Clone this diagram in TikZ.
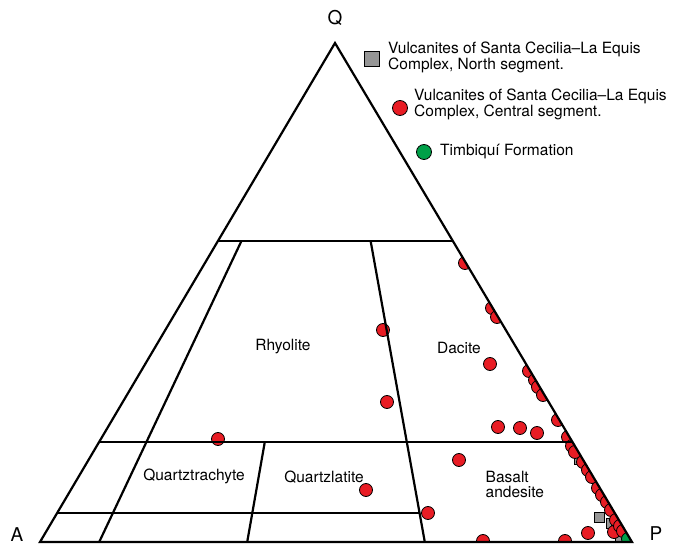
\documentclass[tikz,border=0pt]{standalone}
\usepackage{fontspec}
\setmainfont{TeX Gyre Heros}
\usetikzlibrary{calc}
\definecolor{dotred}{RGB}{232,28,36}
\definecolor{dotgray}{RGB}{150,150,150}
\definecolor{dotgreen}{RGB}{0,160,72}
\begin{document}
\begin{tikzpicture}[x=1pt,y=-1pt,
  edge/.style={line width=2.2pt},
  rdot/.style={circle,draw=black,line width=0.8pt,fill=dotred,minimum size=13pt,inner sep=0pt},
  gsq/.style={rectangle,draw=black,line width=0.8pt,fill=dotgray,minimum size=10pt,inner sep=0pt},
  gdot/.style={circle,draw=black,line width=0.8pt,fill=dotgreen,minimum size=13pt,inner sep=0pt},
  lbl/.style={font=\fontsize{15.5}{13}\selectfont,inner sep=0pt},
  lbltwo/.style={font=\fontsize{15.5}{14.5}\selectfont,inner sep=0pt},
  vtx/.style={font=\fontsize{19}{19}\selectfont,inner sep=0pt}]
\useasboundingbox (0,0) rectangle (673,545);
% vertices
\coordinate (A) at (40,542);
\coordinate (P) at (632,542);
\coordinate (Q) at (335,43);
% base points
\coordinate (b10) at ($(A)!0.10!(P)$);
\coordinate (b35) at ($(A)!0.35!(P)$);
\coordinate (b65) at ($(A)!0.65!(P)$);
% horizontal line ends
\coordinate (h60l) at ($(A)!0.603!(Q)$);
\coordinate (h60r) at ($(P)!0.603!(Q)$);
\coordinate (h20l) at ($(A)!0.2!(Q)$);
\coordinate (h20r) at ($(P)!0.2!(Q)$);
\coordinate (h5l) at ($(A)!0.058!(Q)$);
\coordinate (h5r) at ($(b65)!0.058!(Q)$);
\coordinate (v10t) at ($(b10)!0.603!(Q)$);
\coordinate (v35t) at ($(b35)!0.2!(Q)$);
\coordinate (v65t) at ($(b65)!0.603!(Q)$);

% data points, clipped to the triangle
\begin{scope}
\clip (A) -- (P) -- (Q) -- cycle;
\foreach \x/\y [count=\i] in {579/459,599/517,611/523,616/530,620/537}
  \node[gsq] (g\i) at (\x,\y) {};
\foreach \x/\y [count=\i] in {383/330,387/402,218/439,490/364,498/427,520/428,537/433,459/460,366/490,428/513,483/541,565/541,588/533,614/532,
  465/263,492/308,497/317,529/371,535/380,538/387,543/395,558/420,568/437,572/446,575/452,583/462,588/470,592/477,598/488,602/495,607/502,611/510,616/520,620/526,623/531}
  \node[rdot] (r\i) at (\x,\y) {};
\node[gdot] (t1) at (628,539) {};
\end{scope}

% field boundaries
\draw[edge] (h60l) -- (h60r);
\draw[edge] (h20l) -- (h20r);
\draw[edge] (h5l) -- (h5r);
\draw[edge] (b10) -- (v10t);
\draw[edge] (b35) -- (v35t);
\draw[edge] (b65) -- (v65t);
\draw[edge] (A) -- (P) -- (Q) -- cycle;

% vertex labels
\node[vtx] (lQ) at (335,18) {Q};
\node[vtx] (lA) at (17,535) {A};
\node[vtx] (lP) at (656,534) {P};

% field names
\node[lbl] (rhy) at (283,347) {Rhyolite};
\node[lbl] (dac) at (459,348) {Dacite};
\node[lbl] (qtr) at (194,476) {Quartztrachyte};
\node[lbl] (qla) at (324,477) {Quartzlatite};
\node[lbltwo,anchor=west,align=left] (bas) at (485.5,484.5) {Basalt\\andesite};

% legend
\node[gsq,minimum size=15pt] (k1) at (372,59) {};
\node[lbl,anchor=west,align=left] (k1t) at (388,57) {Vulcanites of Santa Cecilia--La Equis\\Complex, North segment.};
\node[rdot,minimum size=15pt] (k2) at (400,108) {};
\node[lbl,anchor=west,align=left] (k2t) at (414,104.5) {Vulcanites of Santa Cecilia--La Equis\\Complex, Central segment.};
\node[gdot,minimum size=15pt] (k3) at (424,152) {};
\node[lbl,anchor=west] (k3t) at (440,152) {Timbiquí Formation};
\end{tikzpicture}
\end{document}
